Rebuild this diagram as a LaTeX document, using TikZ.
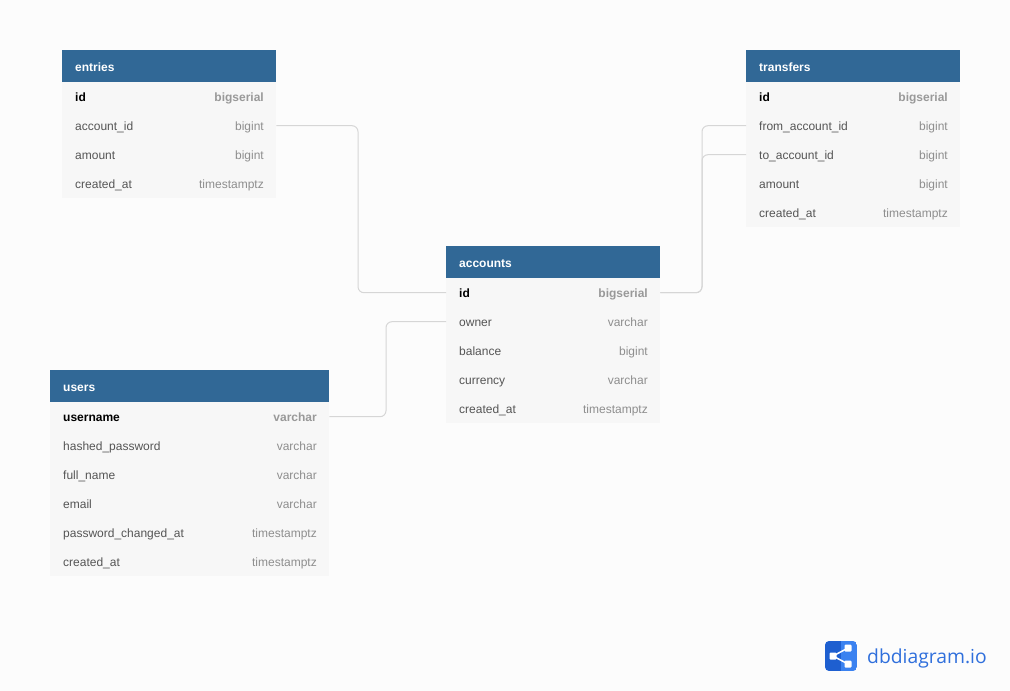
\documentclass[tikz,border=0pt]{standalone}
\usepackage{fontspec}
\setmainfont{Liberation Sans}
\newfontfamily\logofont{Open Sans}
\definecolor{pagebg}{HTML}{FCFCFC}
\definecolor{headblue}{HTML}{316896}
\definecolor{rowbg}{HTML}{F7F7F7}
\definecolor{fieldtxt}{HTML}{555555}
\definecolor{typetxt}{HTML}{8E8E8E}
\definecolor{typebold}{HTML}{999999}
\definecolor{connclr}{HTML}{D6D6D6}
\definecolor{logodark}{HTML}{1E5FD0}
\definecolor{logolight}{HTML}{3B82F0}
\definecolor{logotxt}{HTML}{2F6FDC}
\tikzset{
  x=1pt,y=-1pt,
  headbox/.style={fill=headblue,draw=none,inner sep=0pt,minimum height=32pt,anchor=north west},
  rowbox/.style={fill=rowbg,draw=none,inner sep=0pt,minimum height=29pt,anchor=north west},
  headtxt/.style={font=\fontsize{12}{14}\selectfont\bfseries,text=white,anchor=base west,inner sep=0pt},
  fieldname/.style={font=\fontsize{12}{14}\selectfont,text=fieldtxt,anchor=base west,inner sep=0pt},
  fieldpk/.style={font=\fontsize{12}{14}\selectfont\bfseries,text=black,anchor=base west,inner sep=0pt},
  fieldtype/.style={font=\fontsize{12}{14}\selectfont,text=typetxt,anchor=base east,inner sep=0pt},
  fieldpktype/.style={font=\fontsize{12}{14}\selectfont\bfseries,text=typebold,anchor=base east,inner sep=0pt},
  conn/.style={draw=connclr,line width=1pt,rounded corners=6pt},
  logodot/.style={fill=white,rounded corners=1pt},
}
% \tablehead{id}{x}{y}{width}{title}
\newcommand\tablehead[5]{%
  \node[headbox,minimum width=#4 pt] (#1-h) at (#2,#3) {};
  \node[headtxt] (#1-t) at (#2+13,#3+21) {#5};
}
% \tablerow{id}{n}{x}{y}{width}{name}{type}{namestyle}{typestyle}
\newcommand\tablerow[9]{%
  \node[rowbox,minimum width=#5 pt] (#1-#2) at (#3,#4+32+29*#2-29) {};
  \node[#8] (#1-#2-n) at (#3+13,#4+32+29*#2-29+19) {#6};
  \node[#9] (#1-#2-y) at (#3+#5-12,#4+32+29*#2-29+19) {#7};
}
\begin{document}
\begin{tikzpicture}
\fill[pagebg] (0,0) rectangle (1010,691);
\useasboundingbox (0,0) rectangle (1010,691);

% entries
\tablehead{e}{62}{50}{214}{entries}
\tablerow{e}{1}{62}{50}{214}{id}{bigserial}{fieldpk}{fieldpktype}
\tablerow{e}{2}{62}{50}{214}{account\_id}{bigint}{fieldname}{fieldtype}
\tablerow{e}{3}{62}{50}{214}{amount}{bigint}{fieldname}{fieldtype}
\tablerow{e}{4}{62}{50}{214}{created\_at}{timestamptz}{fieldname}{fieldtype}

% transfers
\tablehead{t}{746}{50}{214}{transfers}
\tablerow{t}{1}{746}{50}{214}{id}{bigserial}{fieldpk}{fieldpktype}
\tablerow{t}{2}{746}{50}{214}{from\_account\_id}{bigint}{fieldname}{fieldtype}
\tablerow{t}{3}{746}{50}{214}{to\_account\_id}{bigint}{fieldname}{fieldtype}
\tablerow{t}{4}{746}{50}{214}{amount}{bigint}{fieldname}{fieldtype}
\tablerow{t}{5}{746}{50}{214}{created\_at}{timestamptz}{fieldname}{fieldtype}

% accounts
\tablehead{a}{446}{246}{214}{accounts}
\tablerow{a}{1}{446}{246}{214}{id}{bigserial}{fieldpk}{fieldpktype}
\tablerow{a}{2}{446}{246}{214}{owner}{varchar}{fieldname}{fieldtype}
\tablerow{a}{3}{446}{246}{214}{balance}{bigint}{fieldname}{fieldtype}
\tablerow{a}{4}{446}{246}{214}{currency}{varchar}{fieldname}{fieldtype}
\tablerow{a}{5}{446}{246}{214}{created\_at}{timestamptz}{fieldname}{fieldtype}

% users
\tablehead{u}{50}{370}{279}{users}
\tablerow{u}{1}{50}{370}{279}{username}{varchar}{fieldpk}{fieldpktype}
\tablerow{u}{2}{50}{370}{279}{hashed\_password}{varchar}{fieldname}{fieldtype}
\tablerow{u}{3}{50}{370}{279}{full\_name}{varchar}{fieldname}{fieldtype}
\tablerow{u}{4}{50}{370}{279}{email}{varchar}{fieldname}{fieldtype}
\tablerow{u}{5}{50}{370}{279}{password\_changed\_at}{timestamptz}{fieldname}{fieldtype}
\tablerow{u}{6}{50}{370}{279}{created\_at}{timestamptz}{fieldname}{fieldtype}

% connectors
\coordinate (c1) at (358,200);
\coordinate (c2) at (702,200);
\coordinate (c3) at (386,370);
\draw[conn] (e-2.east) -| (c1) |- (a-1.west);
\draw[conn] (a-1.east) -| (c2) |- (t-2.west);
\draw[conn] (a-1.east) -| (c2) |- (t-3.west);
\draw[conn] (u-1.east) -| (c3) |- (a-2.west);

% logo
\begin{scope}
  \clip[rounded corners=4pt] (825,641) rectangle (857,671);
  \fill[logodark] (825,641) rectangle (841,671);
  \fill[logolight] (841,641) rectangle (857,671);
\end{scope}
\coordinate (l0) at (833,656);
\coordinate (l1) at (848,648);
\coordinate (l2) at (848,664);
\draw[white,line width=1.5pt] (l1) -- (l0) -- (l2);
\fill[logodot] (829.5,652.5) rectangle (836.5,659.5);
\fill[logodot] (844.5,644.5) rectangle (851.5,651.5);
\fill[logodot] (844.5,660.5) rectangle (851.5,667.5);
\node[font=\logofont\fontsize{19.3}{22}\selectfont,text=logotxt,anchor=base west,inner sep=0pt] (logo) at (867,663) {dbdiagram.io};
\end{tikzpicture}
\end{document}
